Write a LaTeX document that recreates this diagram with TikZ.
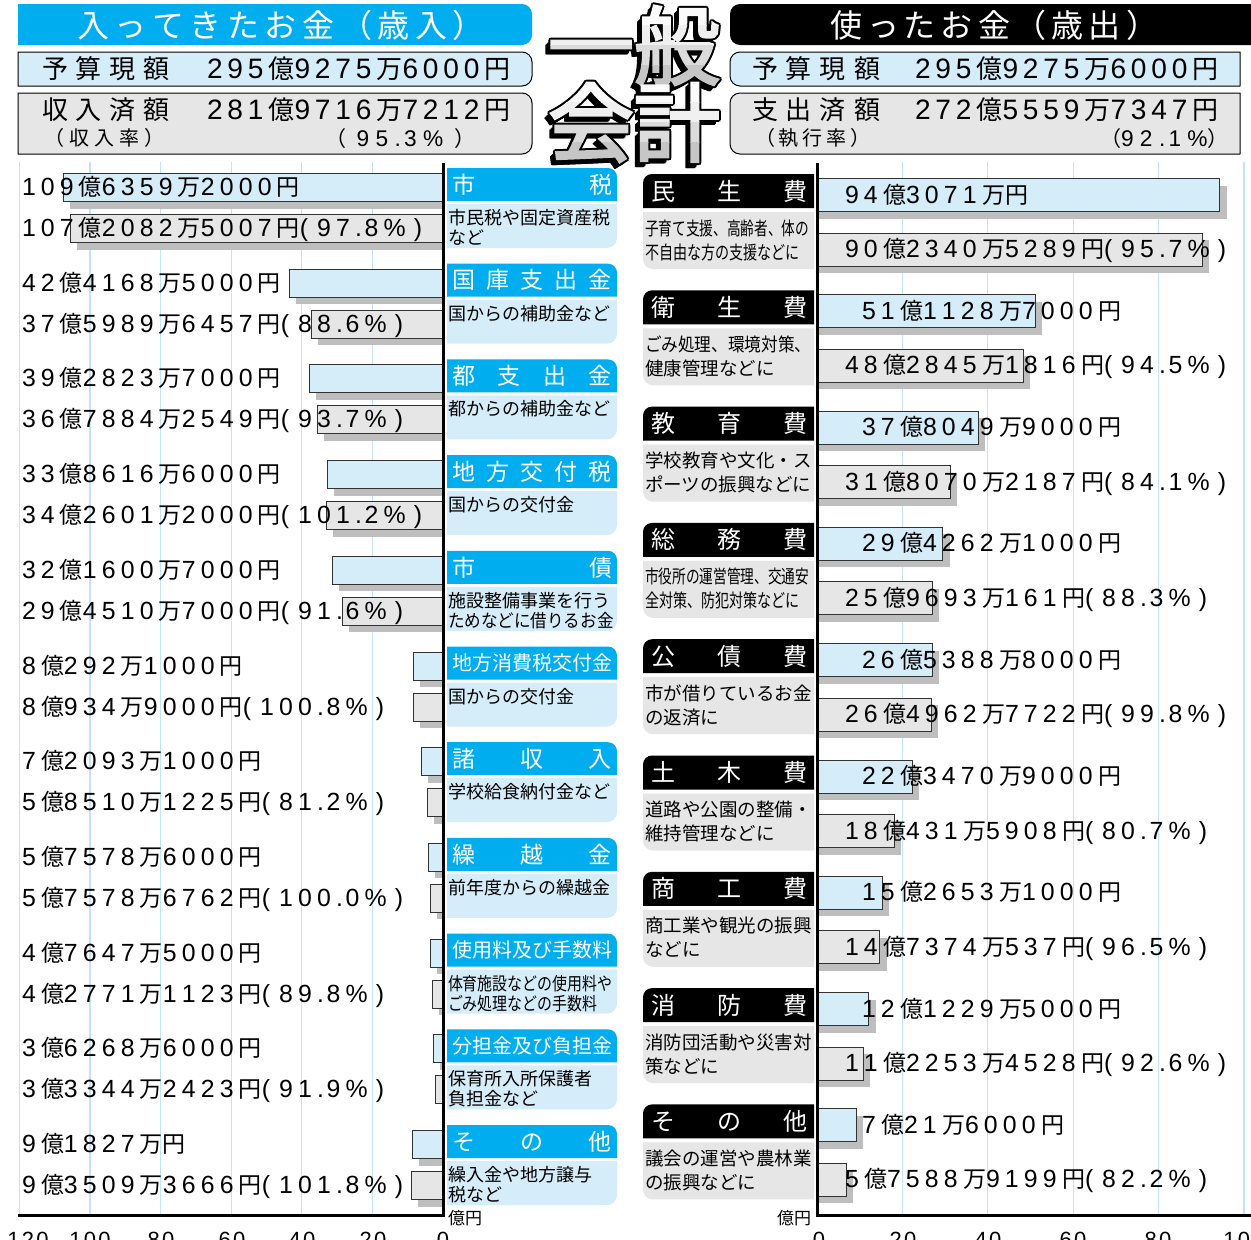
\documentclass[tikz,border=0pt]{standalone}
\usepackage{fontspec}
\usepackage{graphicx}
\newfontfamily\jp{Noto Sans CJK JP}
\newfontfamily\jpb[FakeBold=3]{Noto Sans CJK JP}
\newfontfamily\nm[Scale=1.08]{Liberation Sans}
\newfontfamily\nmt[LetterSpace=10]{Liberation Sans}
\definecolor{cyanhead}{RGB}{0,174,239}
\definecolor{lblue}{RGB}{213,236,249}
\definecolor{lgray}{RGB}{230,230,230}
\definecolor{shad}{RGB}{190,190,190}
\definecolor{gridc}{RGB}{195,228,247}
\definecolor{edge}{RGB}{50,50,50}
\newdimen\dgw
\dgw=19pt
\ExplSyntaxOn
\NewDocumentCommand\spreadtext{mm}{\hbox_to_wd:nn{#1}{\exp_args:No\tl_map_inline:nn{#2}{##1\hfil}\unskip}}
\NewDocumentCommand\dg{m}{{\nm\exp_args:No\tl_map_inline:nn{#1}{\token_if_eq_charcode:NNTF ##1 . {\hbox_to_wd:nn{0.5\dgw}{.\hfil}}{\hbox_to_wd:nn{\dgw}{##1\hfil}}}}}
\NewDocumentCommand\pct{m}{{\nm\hbox_to_wd:nn{0.9\dgw}{(\hfil}\dg{#1}\hbox_to_wd:nn{1.6\dgw}{\%\hfil})}}
\ExplSyntaxOff
\newcommand\amt[3]{\dg{#1}{\jp 億}\dg{#2}{\jp 万}\dg{#3}{\jp 円}}
\newcommand\amtw[3]{{\dgw=20.5pt\relax\dg{#1}{\jp 億}\dg{#2}{\jp 万}\dg{#3}{\jp 円}}}
\newcommand\rrect[9]{\path[#1] (#2+#6,#3) -- (#4-#7,#3) arc[start angle=270,end angle=360,radius=#7] -- (#4,#5-#8) arc[start angle=0,end angle=90,radius=#8] -- (#2+#9,#5) arc[start angle=90,end angle=180,radius=#9] -- (#2,#3+#6) arc[start angle=180,end angle=270,radius=#6] -- cycle;}
\begin{document}
\begin{tikzpicture}[x=1pt,y=-1pt,
  every node/.style={inner sep=0pt, outer sep=0pt},
  amtS/.style={font=\fontsize{23}{27}\selectfont, anchor=base west},
  hdrS/.style={font=\fontsize{26}{30}\selectfont, anchor=base west},
  descS/.style={font=\jp\fontsize{18}{22}\selectfont, anchor=base west},
  rdescS/.style={font=\jp\fontsize{18.5}{22}\selectfont, anchor=base west},
  barS/.style={draw=edge, line width=0.9},
  tickS/.style={font=\nmt\fontsize{22}{26}\selectfont, anchor=base},
  ttlS/.style={font=\jpb\fontsize{86}{90}\selectfont, anchor=base},
]
\useasboundingbox (0,0) rectangle (1251,1240);
\fill[white] (0,0) rectangle (1251,1240);

% ---------- top headers ----------
\rrect{fill=cyanhead}{18}{4}{532}{45}{0.01}{10}{10}{0.01}
\node[anchor=base west, text=white, font=\jp\fontsize{32}{36}\selectfont] (ltitle) at (77,37) {\spreadtext{408pt}{入ってきたお金（歳入）}};
\rrect{fill=lblue,draw=black,line width=1}{18}{52}{532}{86}{0.01}{10}{10}{0.01}
\rrect{fill=lgray,draw=black,line width=1}{18}{93}{532}{154}{0.01}{10}{10}{0.01}
\node[hdrS, font=\jp\fontsize{26}{30}\selectfont] (lyk) at (42,78.5) {\spreadtext{128pt}{予算現額}};
\node[hdrS] (lyv) at (207,78.5) {\amtw{295}{9275}{6000}};
\node[hdrS, font=\jp\fontsize{26}{30}\selectfont] (lsk) at (42,119.5) {\spreadtext{128pt}{収入済額}};
\node[hdrS] (lsv) at (207,119.5) {\amtw{281}{9716}{7212}};
\node[anchor=base west, font=\jp\fontsize{20}{24}\selectfont] (lrk) at (45,145.5) {\spreadtext{120pt}{（収入率）}};
\node[anchor=base west, font=\fontsize{21}{24}\selectfont] (lrv) at (325,146.5) {\hbox to 150pt{\jp （\hfil{\dgw=19pt\relax\dg{95.3}\nm\%}\hfil\jp ）}};

\rrect{fill=black}{730}{4}{1251}{45}{10}{0.01}{0.01}{10}
\node[anchor=base west, text=white, font=\jp\fontsize{32}{36}\selectfont] (rtitle) at (830,37) {\spreadtext{328pt}{使ったお金（歳出）}};
\rrect{fill=lblue,draw=black,line width=1}{730}{52}{1240}{86}{10}{0.01}{0.01}{10}
\rrect{fill=lgray,draw=black,line width=1}{730}{93}{1240}{154}{10}{0.01}{0.01}{10}
\node[hdrS, font=\jp\fontsize{26}{30}\selectfont] (ryk) at (752,78.5) {\spreadtext{128pt}{予算現額}};
\node[hdrS] (ryv) at (915,78.5) {\amtw{295}{9275}{6000}};
\node[hdrS, font=\jp\fontsize{26}{30}\selectfont] (rsk) at (752,119.5) {\spreadtext{128pt}{支出済額}};
\node[hdrS] (rsv) at (915,119.5) {\amtw{272}{5559}{7347}};
\node[anchor=base west, font=\jp\fontsize{20}{24}\selectfont] (rrk) at (755,145.5) {\spreadtext{115pt}{（執行率）}};
\node[anchor=base west, font=\fontsize{21}{24}\selectfont] (rrv) at (1100,146.5) {\hbox to 128pt{\jp （\hfil{\dgw=19pt\relax\dg{92.1}\nm\%}\hfil\jp ）}};

% ---------- big title ----------
\foreach \dx/\dy [count=\k] in {-2/0,2/0,0/-2,0/2,-1.5/-1.5,1.5/1.5,-1.5/1.5,1.5/-1.5,-3/3,-4/4,-5/5,-3/4,-4/5} {
  \node[ttlS, text=black] (gsA\k) at (634+\dx,78+\dy) {一般};
  \node[ttlS, text=black] (gsB\k) at (634+\dx,155+\dy) {会計};
}
\foreach \ya/\yb/\gl [count=\k] in {0/25/3,25/45/12,45/65/28,65/100/45} {
  \begin{scope}
    \clip (540,\ya) rectangle (730,\yb);
    \node[ttlS, text=gray!\gl] (gtop\k) at (634,78) {一般};
  \end{scope}
}
\foreach \ya/\yb/\gl [count=\k] in {80/102/3,102/122/12,122/142/28,142/175/45} {
  \begin{scope}
    \clip (540,\ya) rectangle (730,\yb);
    \node[ttlS, text=gray!\gl] (gbot\k) at (634,155) {会計};
  \end{scope}
}

% ---------- grid ----------
\foreach \x in {372.4,301.8,231.2,160.6,90,19.4} \draw[gridc, line width=1.2] (\x,162) -- (\x,1215);
\foreach \x in {902.4,987.8,1073.2,1158.6,1244} \draw[gridc, line width=1.2] (\x,162) -- (\x,1215);

% ---------- left bars ----------
\foreach \i/\Lb/\La/\Ba/\Bb/\Bc/\Aa/\Ab/\Ac/\Pc in {
0/63/70/109/6359/2000/107/2082/5007/97.8,
1/289/311/42/4168/5000/37/5989/6457/88.6,
2/309/317/39/2823/7000/36/7884/2549/93.7,
3/327/326/33/8616/6000/34/2601/2000/101.2,
4/332/342/32/1600/7000/29/4510/7000/91.6,
5/413/413/8/292/1000/8/934/9000/100.8,
6/421/427/7/2093/1000/5/8510/1225/81.2,
7/428/430/5/7578/6000/5/7578/6762/100.0,
8/430/432/4/7647/5000/4/2771/1123/89.8,
9/433/435/3/6268/6000/3/3344/2423/91.9,
10/412/411/9/1827/{}/9/3509/3666/101.8}{
  \pgfmathsetmacro\yb{187.5+95.7*\i}
  \pgfmathsetmacro\ya{\yb+41}
  \fill[shad] (\Lb+7,\yb-7) rectangle (443,\yb+21);
  \filldraw[fill=lblue,barS] (\Lb,\yb-14) rectangle (443,\yb+14);
  \fill[shad] (\La+7,\ya-7) rectangle (443,\ya+21);
  \filldraw[fill=lgray,barS] (\La,\ya-14) rectangle (443,\ya+14);
  \node[amtS] (lb\i) at (22,\yb+8) {\amt{\Ba}{\Bb}{\Bc}};
  \node[amtS] (la\i) at (22,\ya+8) {\amt{\Aa}{\Ab}{\Ac}\pct{\Pc}};
}

% ---------- left categories ----------
\foreach \i/\Nam/\fs/\Da/\Db/\Sa/\Sb in {
0/市税/23/市民税や固定資産税/など/1/1,
1/国庫支出金/23/国からの補助金など/{}/1/1,
2/都支出金/23/都からの補助金など/{}/1/1,
3/地方交付税/23/国からの交付金/{}/1/1,
4/市債/23/施設整備事業を行う/ためなどに借りるお金/1/0.92,
5/地方消費税交付金/20/国からの交付金/{}/1/1,
6/諸収入/23/学校給食納付金など/{}/1/1,
7/繰越金/23/前年度からの繰越金/{}/1/1,
8/使用料及び手数料/20/体育施設などの使用料や/ごみ処理などの手数料/0.83/0.83,
9/分担金及び負担金/20/保育所入所保護者/負担金など/1/1,
10/その他/23/繰入金や地方譲与/税など/1/1}{
  \pgfmathsetmacro\yh{184.5+95.7*\i}
  \rrect{fill=cyanhead}{447}{\yh-16.5}{617}{\yh+16.5}{0.01}{9}{0.01}{0.01}
  \rrect{fill=lblue}{447}{\yh+19.5}{617}{\yh+63.5}{0.01}{0.01}{10}{0.01}
  \node[anchor=base west, text=white, font=\jp\fontsize{\fs}{\fs}\selectfont] (lh\i) at (452,\yh+0.38*\fs) {\spreadtext{160pt}{\Nam}};
  \node[descS] (lda\i) at (448,\yh+40) {\scalebox{\Sa}[1]{\Da}};
  \node[descS] (ldb\i) at (448,\yh+60) {\scalebox{\Sb}[1]{\Db}};
}

% ---------- right bars ----------
\foreach \j/\Eb/\Ea/\Tx/\Ba/\Bb/\Bc/\Aa/\Ab/\Ac/\Pc in {
0/1219.7/1202.3/845/94/3071/{}/90/2340/5289/95.7,
1/1035.2/1023.2/862/51/1128/7000/48/2845/1816/94.5,
2/978.4/950/862/37/8049/9000/31/8070/2187/84.1,
3/942.7/932/862/29/4262/1000/25/9693/161/88.3,
4/932/931/862/26/5388/8000/26/4962/7722/99.8,
5/912.4/894/862/22/3470/9000/18/431/5908/80.7,
6/882.2/879.9/862/15/2653/1000/14/7374/537/96.5,
7/868.8/863/862/12/1229/5000/11/2253/4528/92.6,
8/856/846/862/7/21/6000/5/7588/9199/82.2}{
  \pgfmathsetmacro\yh{191+116.3*\j}
  \pgfmathsetmacro\yb{\yh+4}
  \pgfmathsetmacro\ya{\yh+58.5}
  \fill[shad] (817,\yb-9.5) rectangle (\Eb+7,\yb+23.5);
  \filldraw[fill=lblue,barS] (817,\yb-16.5) rectangle (\Eb,\yb+16.5);
  \fill[shad] (817,\ya-9.5) rectangle (\Ea+7,\ya+23.5);
  \filldraw[fill=lgray,barS] (817,\ya-16.5) rectangle (\Ea,\ya+16.5);
  \node[amtS] (rb\j) at (\Tx,\yb+8) {\amt{\Ba}{\Bb}{\Bc}};
  \node[amtS] (ra\j) at (845,\ya+8) {\amt{\Aa}{\Ab}{\Ac}\pct{\Pc}};
}

% ---------- right categories ----------
\foreach \j/\Nam/\Da/\Db/\Sa/\Sb in {
0/民生費/子育て支援、高齢者、体の/不自由な方の支援などに/0.74/0.76,
1/衛生費/ごみ処理、環境対策、/健康管理などに/0.9/1,
2/教育費/学校教育や文化・ス/ポーツの振興などに/1/1,
3/総務費/市役所の運営管理、交通安/全対策、防犯対策などに/0.74/0.76,
4/公債費/市が借りているお金/の返済に/1/1,
5/土木費/道路や公園の整備・/維持管理などに/1/1,
6/商工費/商工業や観光の振興/などに/1/1,
7/消防費/消防団活動や災害対/策などに/1/1,
8/その他/議会の運営や農林業/の振興などに/1/1}{
  \pgfmathsetmacro\yh{191+116.3*\j}
  \rrect{fill=black}{643}{\yh-17}{814}{\yh+17}{9}{0.01}{0.01}{0.01}
  \rrect{fill=lgray}{643}{\yh+21}{814}{\yh+78}{0.01}{0.01}{0.01}{10}
  \node[anchor=base west, text=white, font=\jp\fontsize{24}{24}\selectfont] (rh\j) at (651,\yh+9) {\spreadtext{157pt}{\Nam}};
  \node[rdescS] (rda\j) at (645,\yh+44) {\scalebox{\Sa}[1]{\Da}};
  \node[rdescS] (rdb\j) at (645,\yh+68) {\scalebox{\Sb}[1]{\Db}};
}

% ---------- axes ----------
\draw[line width=3] (443,163) -- (443,1216.5);
\draw[line width=3] (18,1215) -- (444.5,1215);
\draw[line width=3] (817,163) -- (817,1216.5);
\draw[line width=3] (815.5,1215) -- (1251,1215);
\node[anchor=west, font=\jp\fontsize{17}{20}\selectfont] (lunit) at (448,1218) {億円};
\node[anchor=east, font=\jp\fontsize{17}{20}\selectfont] (runit) at (811,1218) {億円};
\foreach \x/\t [count=\k] in {28/120,90/100,161/80,232/60,302/40,373/20,443/0}
  \node[tickS] (lt\k) at (\x,1247) {\t};
\foreach \x/\t [count=\k] in {819/0,903/20,988/40,1073/60,1158/80,1244/100}
  \node[tickS] (rt\k) at (\x,1247) {\t};
\end{tikzpicture}
\end{document}
